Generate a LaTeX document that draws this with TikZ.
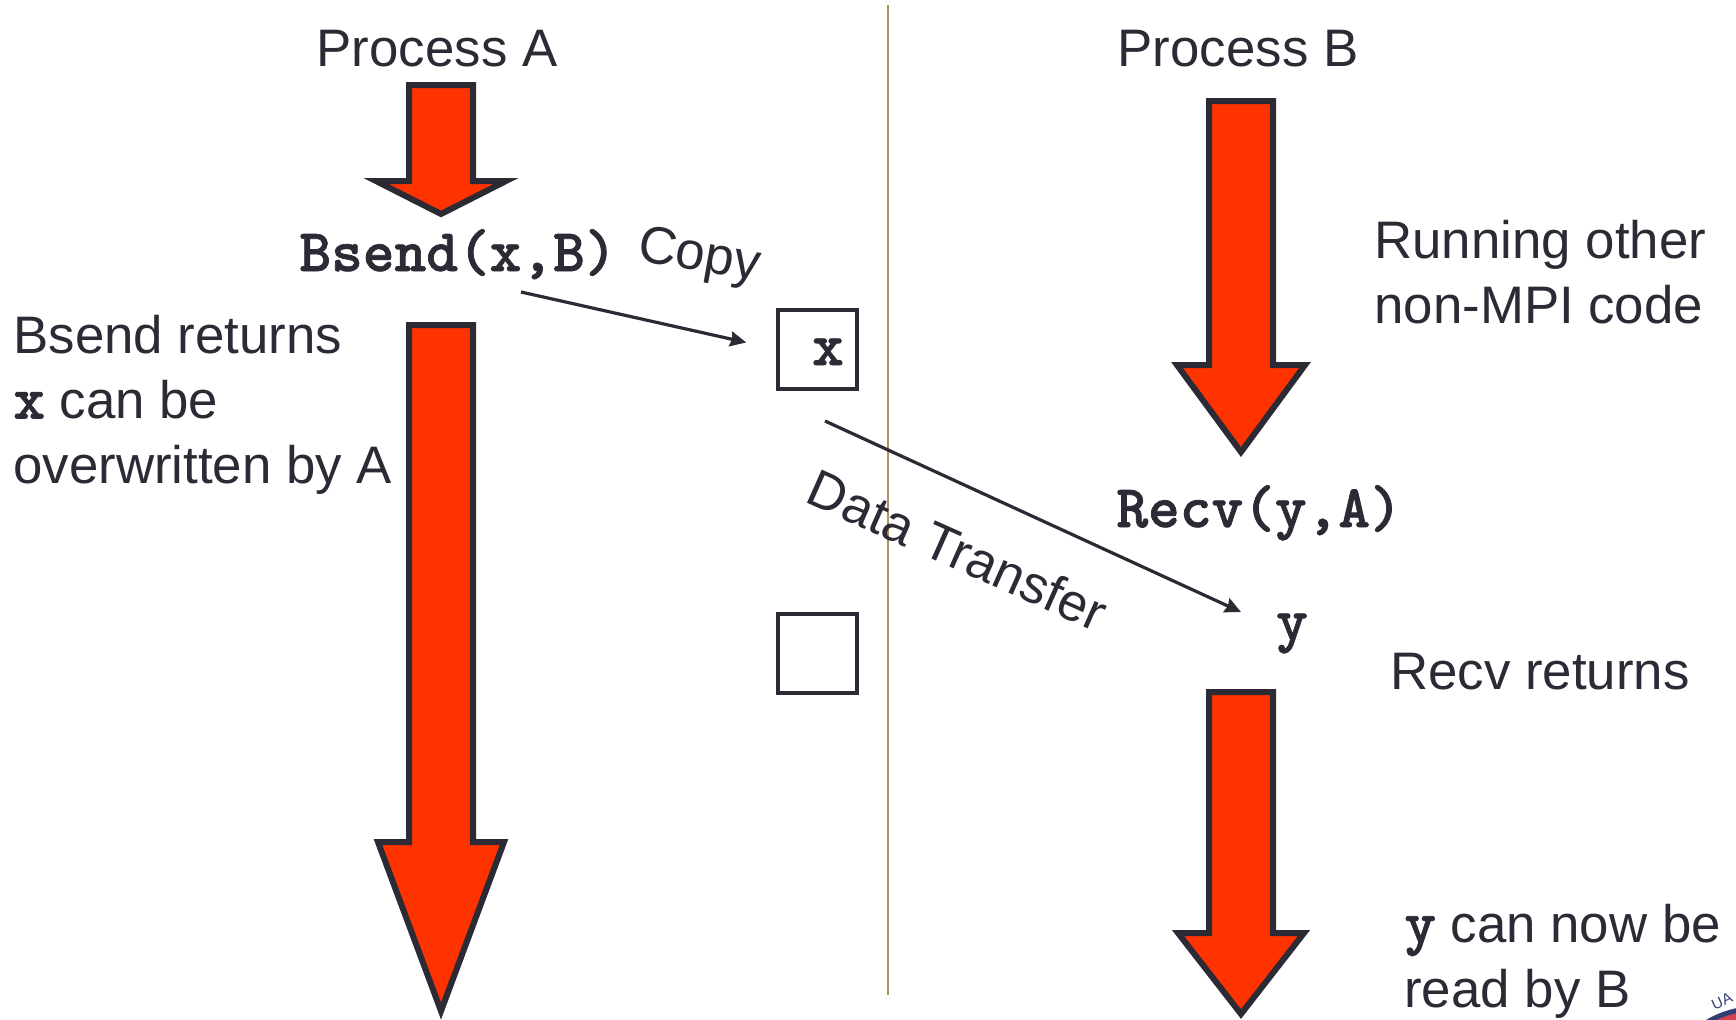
\documentclass[tikz,border=0pt]{standalone}
\usepackage{fontspec}
\setmainfont{Liberation Sans}
\newfontfamily\codeface[FakeBold=1.2]{lmmonolt10-bold.otf}
\usetikzlibrary{arrows.meta}
\definecolor{ink}{HTML}{2B2A35}
\definecolor{flow}{HTML}{FF3300}
\definecolor{divider}{HTML}{B09060}
\definecolor{sealblue}{HTML}{2F3F73}
\definecolor{sealred}{HTML}{D8404F}
\newcommand{\codefont}{\fontsize{30.2}{32}\selectfont\codeface}
\newcommand{\procarrow}[5]{\draw[procarr] (#1-32,#2) -- (#1+32,#2) -- (#1+32,#3) -- (#1+#5,#3) -- (#1,#4) -- (#1-#5,#3) -- (#1-32,#3) -- cycle;}

\begin{document}
\begin{tikzpicture}[
x = 0.5pt, y = -0.5pt,
every node/.style={text = ink, inner sep = 0pt, font = \fontsize{26.4}{32.4}\selectfont},
procarr/.style={draw = ink, fill = flow, line width = 3pt, miter limit = 20},
bufrect/.style={rectangle, draw = ink, line width = 2pt, minimum width = 39.5pt, minimum height = 39.5pt},
codetxt/.style={font = \codefont},
msgarr/.style={-{Stealth[length = 8pt, width = 7.5pt, inset = 0.8pt]}, draw = ink, line width = 1.6pt}]

\useasboundingbox (0,0) rectangle (1736,1019);

\draw[divider, line width = 1pt] (888,5) -- (888,995);

\node[anchor = base] (procA) at (437,66) {Process A};
\node[anchor = base] (procB) at (1238,66) {Process B};

\procarrow{441}{85}{181}{214}{65}
\procarrow{441}{325}{842}{1011}{63}
\procarrow{1241}{101}{365}{452}{64}
\procarrow{1241}{692}{933}{1014}{63}

\node[codetxt, anchor = base] (bsend) at (458,271) {Bsend(x,B)};
\node[anchor = center, rotate = -10] (copy) at (699,258) {Copy};
\node[bufrect] (bufx) at (817,349) {};
\node[codetxt, anchor = base] (xval) at (828,365) {x};
\node[bufrect] (bufe) at (817,653) {};

\node[anchor = north west, align = left] (retA) at (13,315) {Bsend returns\\{\codefont x} can be\\overwritten by A};
\node[anchor = north west, align = left] (runB) at (1374,220) {Running other\\non-MPI code};
\node[codetxt, anchor = base west] (recv) at (1116,527) {Recv(y,A)};
\node[codetxt, anchor = base] (yval) at (1292,640) {y};
\node[anchor = base west] (retB) at (1390,689) {Recv returns};
\node[anchor = north west, align = left] (readB) at (1404,904) {{\codefont y} can now be\\read by B};
\node[anchor = center, rotate = -24] (xfer) at (958,550) {Data Transfer};

\coordinate (copystart) at (521,292);
\coordinate (xferstart) at (825,421);
\coordinate (xferend) at (1241,612);
\draw[msgarr, shorten > = 15pt] (copystart) -- (bufx.west);
\draw[msgarr] (xferstart) -- (xferend);

% seal in the corner, mostly off the page
\fill[sealblue] (1757,1106) circle (100);
\fill[sealred] (1757,1106) circle (95);
\node[rotate = 25, text = sealblue, font = \fontsize{7.5}{9}\selectfont] (seal) at (1722,1001) {UA};
\end{tikzpicture}
\end{document}
